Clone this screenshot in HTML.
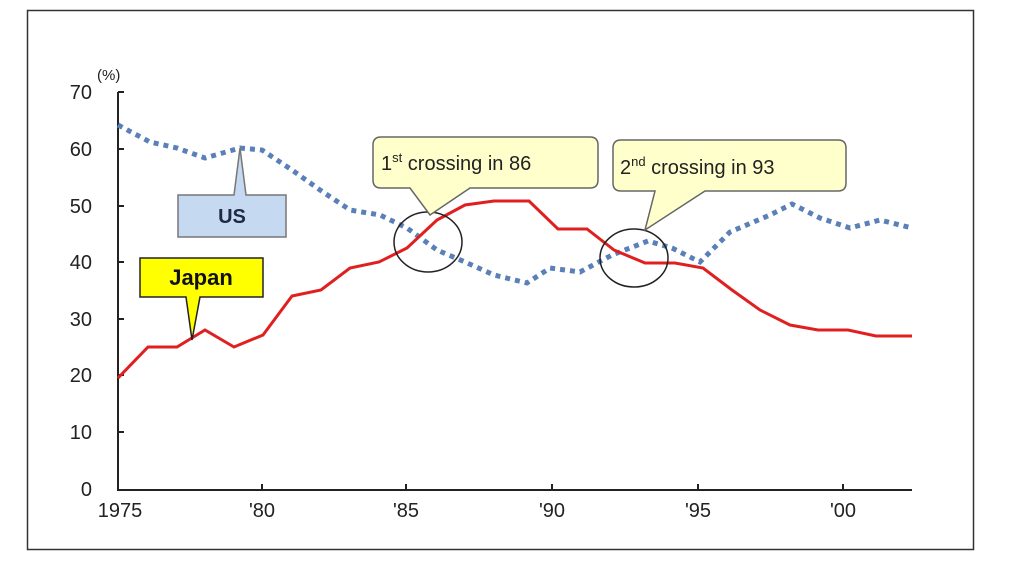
<!DOCTYPE html>
<html><head><style>body{margin:0;background:#fff}svg{display:block;font-family:"Liberation Sans",Arial,sans-serif}</style></head><body>
<svg width="1024" height="575" viewBox="0 0 1024 575">
<rect x="27.5" y="10.5" width="946" height="539" fill="#fff" stroke="#333" stroke-width="1.5"/>
<g stroke="#222" stroke-width="2" fill="none">
<path d="M118 92V490H912"/>
<path d="M118 92h6M118 149h6M118 206h6M118 262h6M118 319h6M118 375h6M118 432h6"/>
<path d="M262 490v-6M406 490v-6M552 490v-6M698 490v-6M843 490v-6"/>
</g>
<g font-size="20" fill="#222" text-anchor="end">
<text x="92" y="99">70</text><text x="92" y="156">60</text><text x="92" y="213">50</text><text x="92" y="269">40</text><text x="92" y="326">30</text><text x="92" y="382">20</text><text x="92" y="439">10</text><text x="92" y="496">0</text>
</g>
<text x="97" y="80" font-size="15" fill="#222">(%)</text>
<g font-size="20" fill="#222" text-anchor="middle">
<text x="120" y="517">1975</text><text x="262" y="517">'80</text><text x="406" y="517">'85</text><text x="552" y="517">'90</text><text x="698" y="517">'95</text><text x="843" y="517">'00</text>
</g>
<polyline fill="none" stroke="#5a80b8" stroke-width="5" stroke-dasharray="5 5" points="118,125 150,142 177,148 205,158 240,148 262,150 292,170 320,190 350,210 380,215 407,228 437,250 465,262 494,275 527,283 550,268 580,272 612,255 648,241 672,248 700,262 730,232 770,215 792,204 820,218 850,228 880,220 912,228"/>
<polyline fill="none" stroke="#e02020" stroke-width="3" points="118,378 148,347 177,347 205,330 234,347 263,335 292,296 321,290 350,268 379,262 407,248 437,220 465,205 494,201 529,201 558,229 587,229 614,250 645,263 675,263 703,268 732,290 760,310 790,325 818,330 848,330 876,336 912,336"/>
<ellipse cx="428" cy="242" rx="34" ry="30" fill="none" stroke="#222" stroke-width="1.5"/>
<ellipse cx="634" cy="258" rx="34" ry="29" fill="none" stroke="#222" stroke-width="1.5"/>
<path d="M178 195H234L240 148L246 195H286V237H178Z" fill="#c5d9f1" stroke="#777" stroke-width="1.5"/>
<text x="232" y="223" font-size="20" font-weight="bold" fill="#1f2a44" text-anchor="middle">US</text>
<path d="M140 258H263V297H200L192 340L186 297H140Z" fill="#ffff00" stroke="#222" stroke-width="1.5"/>
<text x="201" y="285" font-size="22" font-weight="bold" fill="#111" text-anchor="middle">Japan</text>
<path d="M381 137H590Q598 137 598 145V180Q598 188 590 188H470L430 215L410 188H381Q373 188 373 180V145Q373 137 381 137Z" fill="#ffffcc" stroke="#666" stroke-width="1.5"/>
<text x="381" y="170" font-size="20" fill="#222">1<tspan font-size="13" dy="-8">st</tspan><tspan dy="8">  crossing in 86</tspan></text>
<path d="M621 140H838Q846 140 846 148V183Q846 191 838 191H705L645 230L655 191H621Q613 191 613 183V148Q613 140 621 140Z" fill="#ffffcc" stroke="#666" stroke-width="1.5"/>
<text x="620" y="174" font-size="20" fill="#222">2<tspan font-size="13" dy="-8">nd</tspan><tspan dy="8"> crossing in 93</tspan></text>
</svg>
</body></html>
